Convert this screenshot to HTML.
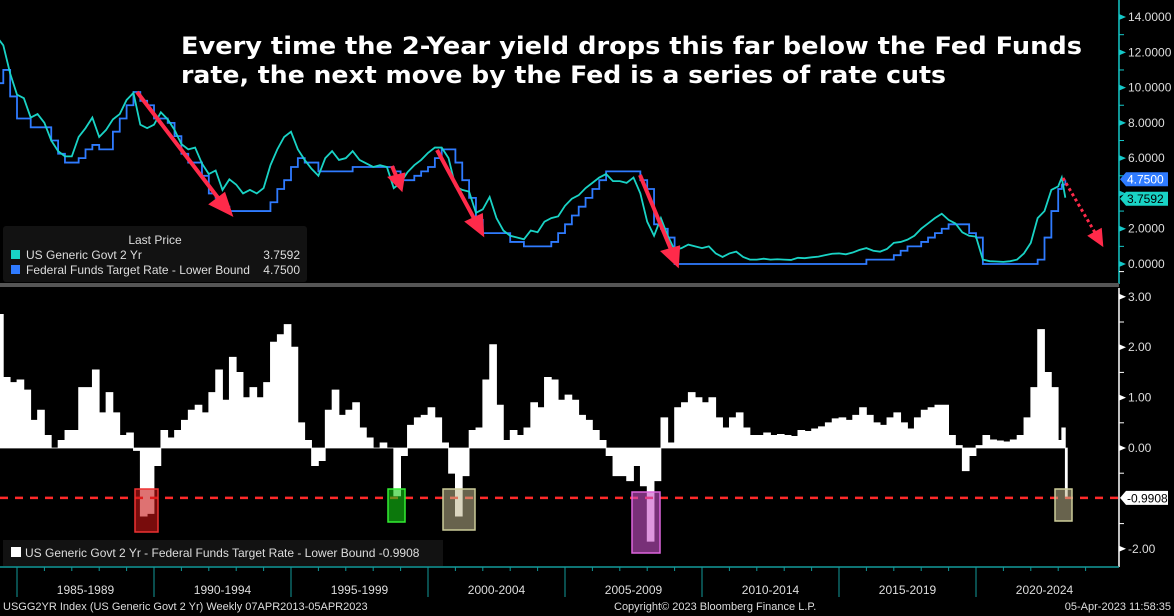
<!DOCTYPE html>
<html><head><meta charset="utf-8">
<style>
html,body{margin:0;padding:0;background:#000;}
body{width:1174px;height:616px;overflow:hidden;font-family:"Liberation Sans",sans-serif;position:relative;}
svg text{font-family:"Liberation Sans",sans-serif;}
</style></head>
<body>
<svg id="chart" style="position:absolute;left:0;top:0" width="1174" height="616" viewBox="0 0 1174 616" xmlns="http://www.w3.org/2000/svg">
<rect width="1174" height="616" fill="#000"/>
<g id="top-panel"></g>
<g id="bottom-panel"></g>
<g id="axes"></g>
</svg>
<script>
const dates = [1984.25,1984.5,1984.75,1985,1985.25,1985.5,1985.75,1986,1986.25,1986.5,1986.75,1987,1987.25,1987.5,1987.75,1988,1988.25,1988.5,1988.75,1989,1989.25,1989.5,1989.75,1990,1990.25,1990.5,1990.75,1991,1991.25,1991.5,1991.75,1992,1992.25,1992.5,1992.75,1993,1993.25,1993.5,1993.75,1994,1994.25,1994.5,1994.75,1995,1995.25,1995.5,1995.75,1996,1996.25,1996.5,1996.75,1997,1997.25,1997.5,1997.75,1998,1998.25,1998.5,1998.75,1999,1999.25,1999.5,1999.75,2000,2000.25,2000.5,2000.75,2001,2001.25,2001.5,2001.75,2002,2002.25,2002.5,2002.75,2003,2003.25,2003.5,2003.75,2004,2004.25,2004.5,2004.75,2005,2005.25,2005.5,2005.75,2006,2006.25,2006.5,2006.75,2007,2007.25,2007.5,2007.75,2008,2008.25,2008.5,2008.75,2009,2009.25,2009.5,2009.75,2010,2010.25,2010.5,2010.75,2011,2011.25,2011.5,2011.75,2012,2012.25,2012.5,2012.75,2013,2013.25,2013.5,2013.75,2014,2014.25,2014.5,2014.75,2015,2015.25,2015.5,2015.75,2016,2016.25,2016.5,2016.75,2017,2017.25,2017.5,2017.75,2018,2018.25,2018.5,2018.75,2019,2019.25,2019.5,2019.75,2020,2020.25,2020.5,2020.75,2021,2021.25,2021.5,2021.75,2022,2022.25,2022.5,2022.75,2023,2023.13,2023.26];
const yield2y = [12.9,12.4,10.8,9.6,9.4,8.3,8.5,8.0,7.0,6.4,6.1,6.1,7.2,7.7,8.3,7.2,7.6,8.2,8.5,9.3,9.7,7.9,7.7,7.9,8.6,8.2,7.6,6.8,6.5,6.6,5.7,5.1,5.3,4.2,4.8,4.5,4.0,4.2,4.0,4.3,5.6,6.5,7.2,7.5,6.5,5.9,5.4,5.0,6.0,6.4,5.9,6.0,6.4,5.9,5.7,5.5,5.6,5.5,4.3,4.6,5.2,5.6,5.9,6.3,6.6,6.6,6.0,4.4,4.2,4.1,2.9,3.1,3.8,2.6,1.9,1.6,1.5,1.4,1.9,1.8,2.4,2.6,2.7,3.3,3.7,3.9,4.3,4.6,4.9,5.1,4.7,4.7,4.6,4.9,4.0,2.4,1.6,2.6,1.6,0.8,0.9,1.1,1.0,0.9,1.0,0.6,0.4,0.6,0.7,0.4,0.25,0.25,0.3,0.25,0.27,0.25,0.23,0.35,0.33,0.38,0.42,0.5,0.58,0.6,0.55,0.65,0.8,0.9,0.75,0.7,0.85,1.2,1.25,1.38,1.6,2.0,2.3,2.6,2.85,2.5,2.3,1.8,1.6,1.55,0.25,0.16,0.14,0.12,0.16,0.25,0.6,1.2,2.6,3.0,4.2,4.4,4.9,3.7592];
const fedFunds = [10.25,11.0,9.5,8.25,8.25,7.75,7.75,7.75,7.0,6.25,5.75,5.75,6.0,6.5,6.75,6.5,6.5,7.5,8.25,9.0,9.75,9.25,9.0,8.25,8.25,8.0,7.25,6.25,5.75,5.75,5.0,4.0,3.75,3.25,3.0,3.0,3.0,3.0,3.0,3.0,3.5,4.25,4.75,5.5,6.0,5.75,5.75,5.25,5.25,5.25,5.25,5.25,5.5,5.5,5.5,5.5,5.5,5.5,5.25,4.75,4.75,5.0,5.25,5.5,6.0,6.5,6.5,5.75,4.75,3.75,2.5,1.75,1.75,1.75,1.75,1.25,1.25,1.0,1.0,1.0,1.0,1.25,1.75,2.25,2.75,3.25,3.75,4.25,4.75,5.25,5.25,5.25,5.25,5.25,4.75,4.25,2.25,2.0,1.5,0,0,0,0,0,0,0,0,0,0,0,0,0,0,0,0,0,0,0,0,0,0,0,0,0,0,0,0,0.25,0.25,0.25,0.25,0.5,0.75,1.0,1.0,1.25,1.5,1.75,2.0,2.25,2.25,2.25,1.75,1.5,0,0,0,0,0,0,0,0,0.25,1.5,3.0,4.25,4.5,4.75];
const topTicks = [0,2,4,6,8,10,12,14];
const botTicks = [-2,-1,0,1,2,3];
const periodLabels = ["1985-1989","1990-1994","1995-1999","2000-2004","2005-2009","2010-2014","2015-2019","2020-2024"];
const periodStarts = [1985,1990,1995,2000,2005,2010,2015,2020];
const spreadLast = -0.9908;

(function(){
const NS="http://www.w3.org/2000/svg";
function mk(tag,attrs,parent){const e=document.createElementNS(NS,tag);for(const k in attrs)e.setAttribute(k,attrs[k]);parent.appendChild(e);return e;}
const X = t => 154 + (t-1990)*27.4;
const YT = v => 264 - v*17.64;
const YB = v => 448 - v*50.4;
const topG=document.getElementById('top-panel'), botG=document.getElementById('bottom-panel'), ax=document.getElementById('axes');

let dFF='';
dates.forEach((t,i)=>{ if(i===0) dFF+=`M${X(t)},${YT(fedFunds[i])}`; else dFF+=`H${X(t)}V${YT(fedFunds[i])}`; });
let ffLine=mk('path',{d:dFF,fill:'none',stroke:'#2f7bff','stroke-width':1.8},topG);


let d2='';
dates.forEach((t,i)=>{ d2+=(i?'L':'M')+X(t)+','+YT(yield2y[i]); });
let yLine=mk('path',{d:d2,fill:'none',stroke:'#19d3c5','stroke-width':1.8},topG);



let dS=`M${X(dates[0])},${YB(0)}`;
dates.forEach((t,i)=>{ const s=yield2y[i]-fedFunds[i]; const x1=X(t), x2=i<dates.length-1?X(dates[i+1]):X(t)+2; dS+=`L${x1},${YB(s)}L${x2},${YB(s)}`; });
dS+=`L${X(dates[dates.length-1])+2},${YB(0)}Z`;
let sp=mk('path',{d:dS,fill:'#fff',stroke:'#fff','stroke-width':0.8},botG);


let dl=mk('line',{x1:0,x2:1119,y1:YB(spreadLast),y2:YB(spreadLast),stroke:'#ff2a2a','stroke-width':2.5,'stroke-dasharray':'8,7'},botG);



mk('line',{x1:1119,x2:1119,y1:0,y2:284,stroke:'#14c8c8','stroke-width':1.5},ax);
mk('rect',{x:0,y:283,width:1119,height:4,fill:'#555'},ax);
mk('line',{x1:1119,x2:1119,y1:288,y2:567,stroke:'#fff','stroke-width':1.5},ax);
topTicks.forEach(v=>{
  mk('path',{d:`M1119,${YT(v)-3}L1126,${YT(v)}L1119,${YT(v)+3}Z`,fill:'#14c8c8'},ax);
  mk('line',{x1:1119,x2:1124,y1:YT(v+1),y2:YT(v+1),stroke:'#14c8c8'},ax);
  if(v!==4){
  const t=mk('text',{x:1128,y:YT(v)+4,fill:'#ddd','font-size':12},ax); t.textContent=v.toFixed(4);
  
  }
});
botTicks.forEach(v=>{
  if(v!==-1){mk('path',{d:`M1119,${YB(v)-3}L1126,${YB(v)}L1119,${YB(v)+3}Z`,fill:'#fff'},ax);
  const t=mk('text',{x:1128,y:YB(v)+4,fill:'#ddd','font-size':12},ax); t.textContent=v.toFixed(2);
  
  }
  mk('line',{x1:1119,x2:1124,y1:YB(v+0.5),y2:YB(v+0.5),stroke:'#fff'},ax);
});
function tag(y,txt,bg,fg,name){const g=mk('g',{},ax);
 mk('path',{d:`M1120,${y}L1126,${y-7}H1168V${y+7}H1126Z`,fill:bg},g);
 const t=mk('text',{x:1127,y:y+4.5,fill:fg,'font-size':12},g); t.textContent=txt;
 
 }
tag(YT(fedFunds[fedFunds.length-1])-1,fedFunds[fedFunds.length-1].toFixed(4),'#2f7bff','#fff','fed-funds-value-tag');
tag(YT(yield2y[yield2y.length-1])+1,yield2y[yield2y.length-1].toFixed(4),'#19d3c5','#000','2yr-value-tag');
tag(YB(spreadLast),spreadLast.toFixed(4),'#fff','#000','spread-value-tag');

mk('line',{x1:0,x2:1119,y1:567,y2:567,stroke:'#129a9a','stroke-width':1.5},ax);
for(let yr=1985;yr<=2024;yr++){ const major=(yr%5===0); mk('line',{x1:X(yr),x2:X(yr),y1:567,y2:major?597:571,stroke:'#129a9a','stroke-width':1},ax); }
periodLabels.forEach((l,i)=>{const t=mk('text',{x:X(periodStarts[i]+2.5),y:594,fill:'#ddd','font-size':12,'text-anchor':'middle'},ax); t.textContent=l;
 
 });
})();
</script>
<svg style="position:absolute;left:0;top:0" width="1174" height="616">
<text x="181" y="54" fill="#fff" font-size="24" font-weight="bold" textLength="901" lengthAdjust="spacingAndGlyphs" style="font-family:'DejaVu Sans',sans-serif">Every time the 2-Year yield drops this far below the Fed Funds</text>
<text x="181" y="83" fill="#fff" font-size="24" font-weight="bold" textLength="765" lengthAdjust="spacingAndGlyphs" style="font-family:'DejaVu Sans',sans-serif">rate, the next move by the Fed is a series of rate cuts</text>
<g stroke="#ff2a4a" stroke-width="4" fill="#ff2a4a">
<line x1="137" y1="92" x2="222" y2="203"/><path d="M230,213 L212,204 L224,195Z"/>
<line x1="392" y1="166" x2="397" y2="178"/><path d="M401,188 L391,178 L403,175Z"/>
<line x1="437" y1="150" x2="476" y2="222"/><path d="M482,233 L468,222 L481,216Z"/>
<line x1="640" y1="175" x2="672" y2="252"/><path d="M677,264 L664,252 L678,248Z"/>
<line x1="1063" y1="178" x2="1097" y2="236" stroke-dasharray="3,3" stroke-width="3"/><path d="M1101,243 L1091,236 L1100,231Z"/>
</g>
<g stroke-width="1.5">
<rect x="135" y="489" width="23" height="43" fill="rgba(200,20,20,0.6)" stroke="#e33"/>
<rect x="388" y="489" width="17" height="33" fill="rgba(20,200,20,0.6)" stroke="#3e3"/>
<rect x="443" y="489" width="32" height="41" fill="rgba(190,180,140,0.55)" stroke="#cc9"/>
<rect x="632" y="492" width="28" height="61" fill="rgba(200,80,200,0.6)" stroke="#d6d"/>
<rect x="1055" y="489" width="17" height="32" fill="rgba(190,180,140,0.55)" stroke="#cc9"/>
</g>
<g>
<rect x="3" y="226" width="304" height="56" rx="3" fill="#121212"/>
<text x="155" y="244" fill="#ddd" font-size="12" text-anchor="middle">Last Price</text>
<rect x="11" y="250" width="9" height="9" fill="#19d3c5"/>
<text x="26" y="259" fill="#ddd" font-size="12">US Generic Govt 2 Yr</text>
<text x="300" y="259" fill="#ddd" font-size="12" text-anchor="end">3.7592</text>
<rect x="11" y="265" width="9" height="9" fill="#2f7bff"/>
<text x="26" y="274" fill="#ddd" font-size="12">Federal Funds Target Rate - Lower Bound</text>
<text x="300" y="274" fill="#ddd" font-size="12" text-anchor="end">4.7500</text>
</g>
<g>
<rect x="3" y="540" width="440" height="26" fill="#121212"/>
<rect x="11" y="547" width="10" height="10" fill="#fff"/>
<text x="25" y="557" fill="#ddd" font-size="12">US Generic Govt 2 Yr - Federal Funds Target Rate - Lower Bound -0.9908</text>
</g>
<text x="3" y="610" fill="#ddd" font-size="11">USGG2YR Index (US Generic Govt 2 Yr)  Weekly 07APR2013-05APR2023</text>
<text x="614" y="610" fill="#ddd" font-size="11">Copyright© 2023 Bloomberg Finance L.P.</text>
<text x="1171" y="610" fill="#ddd" font-size="11" text-anchor="end">05-Apr-2023 11:58:35</text>
</svg>
</body></html>
